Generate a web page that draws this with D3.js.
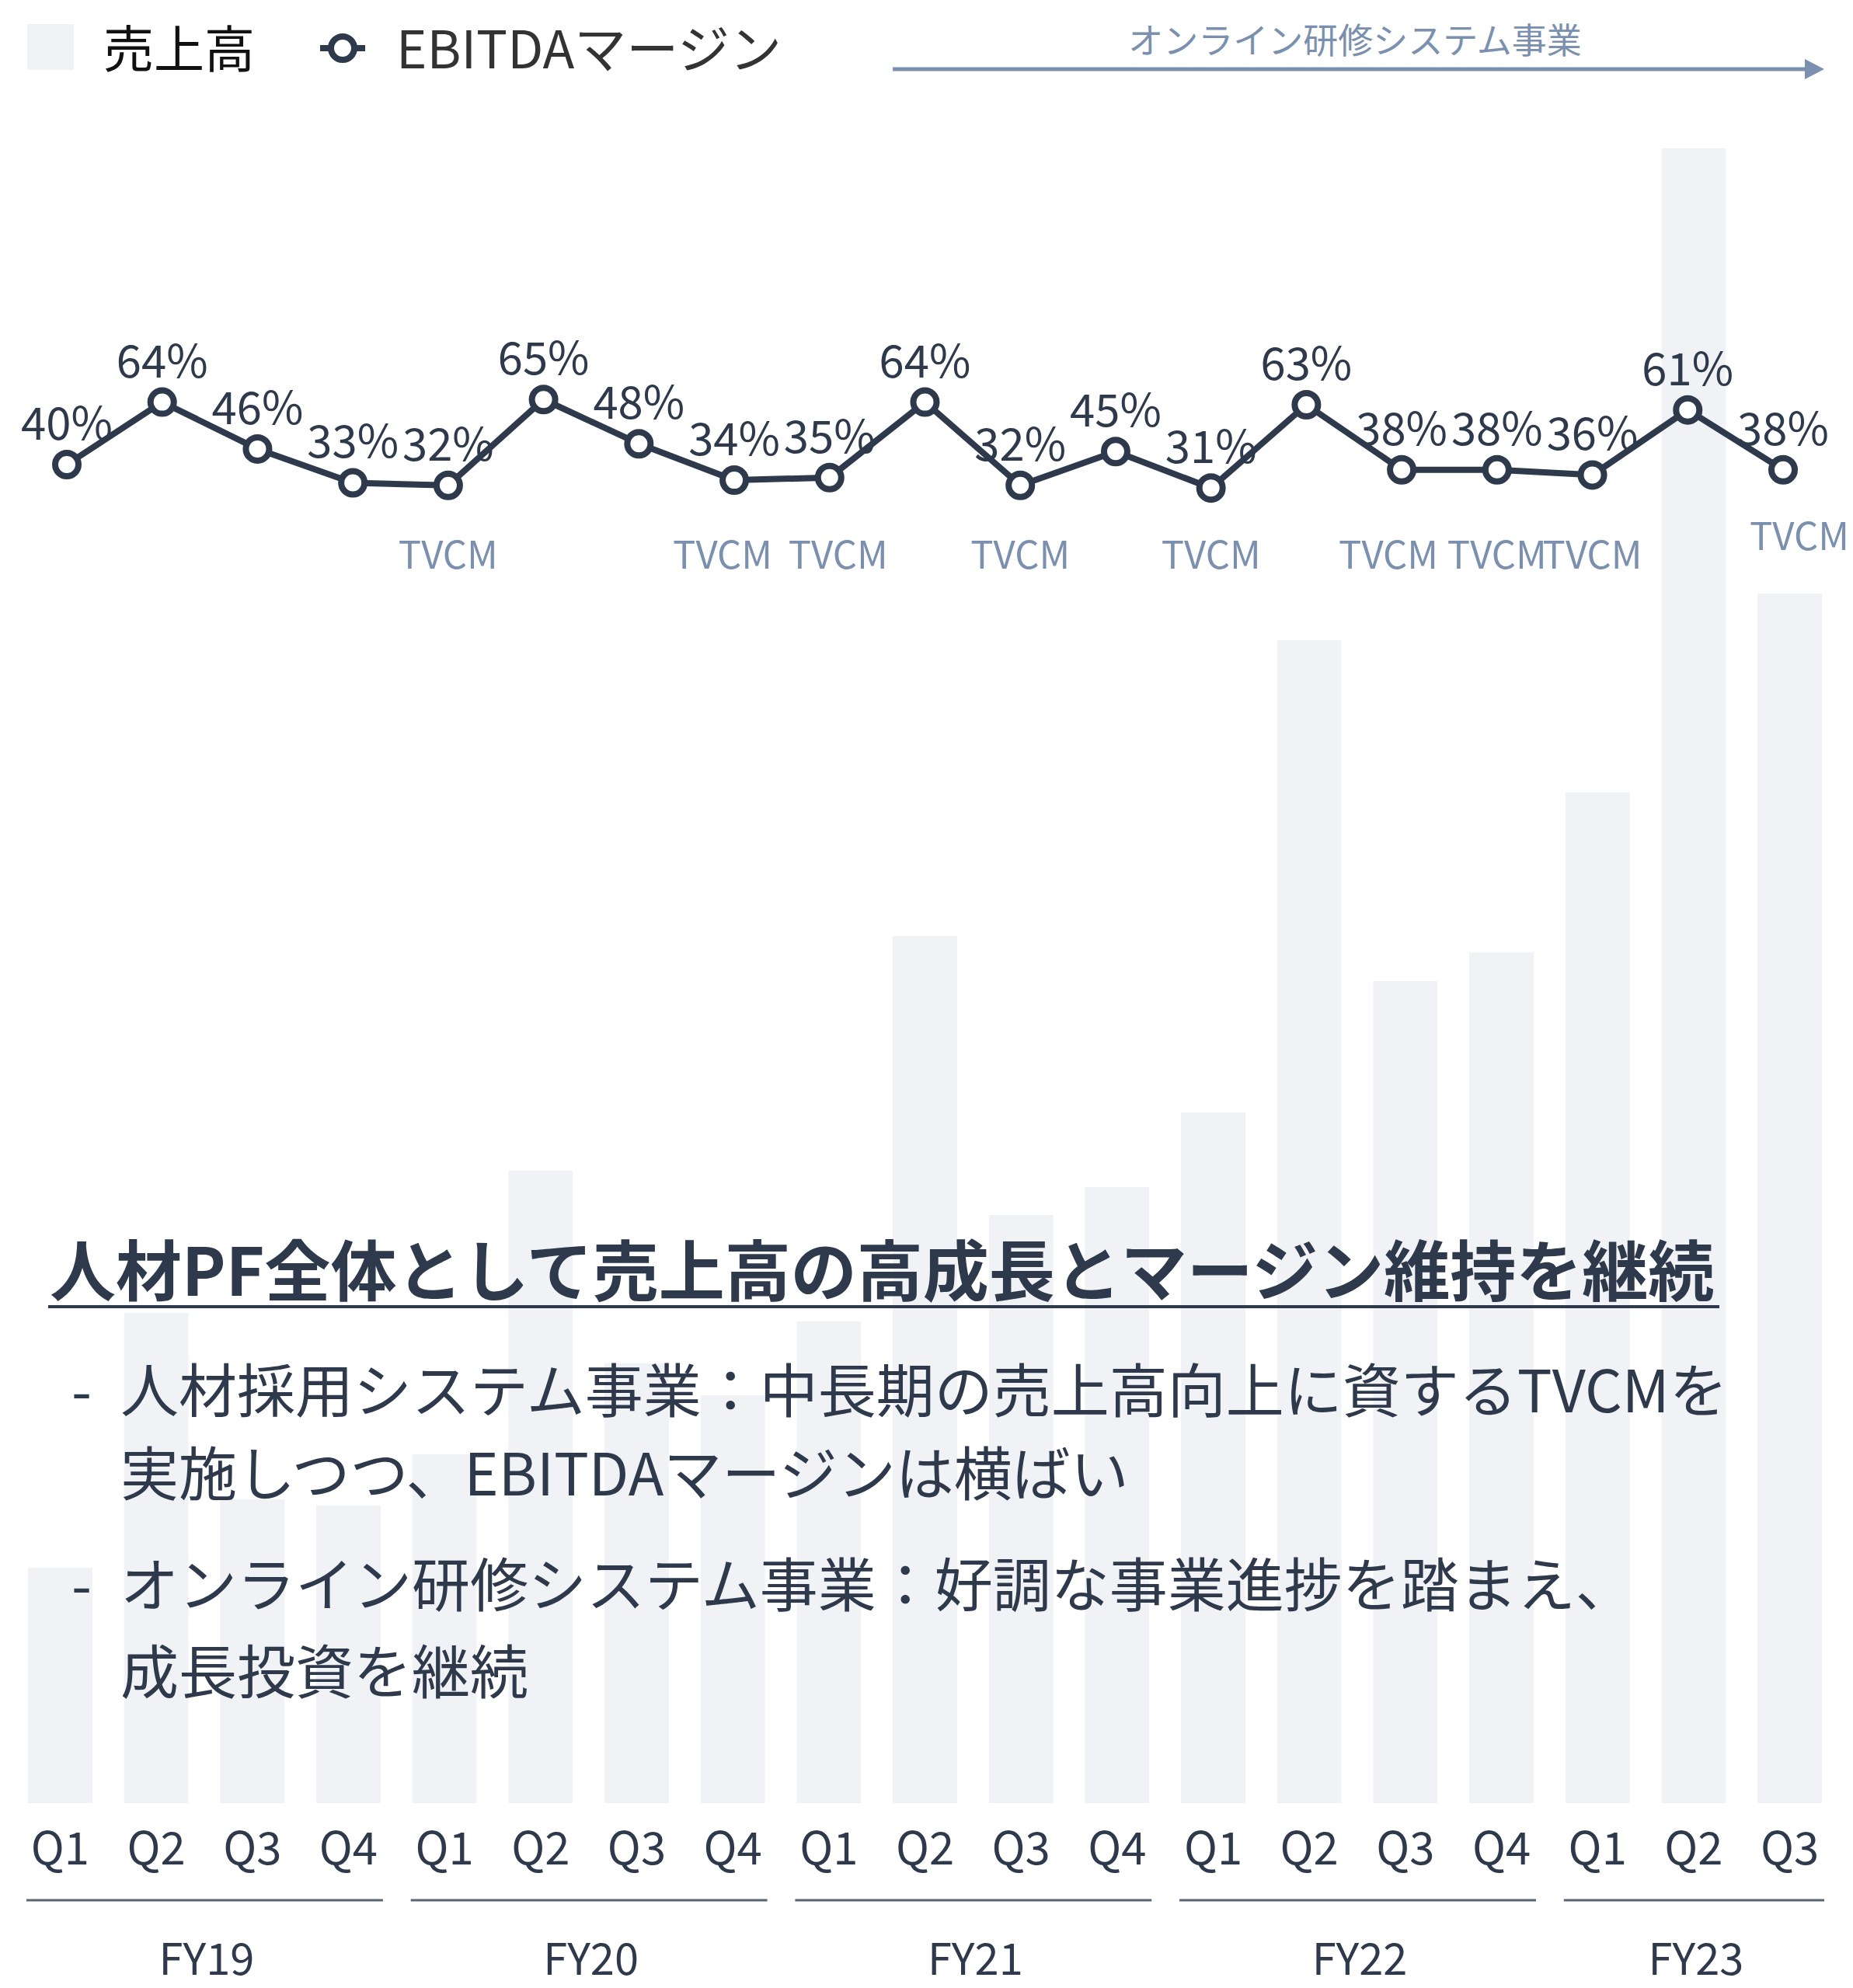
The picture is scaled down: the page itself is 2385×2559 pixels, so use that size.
<!DOCTYPE html>
<html>
<head>
<meta charset="utf-8">
<script src="https://cdn.jsdelivr.net/npm/d3@7"></script>
<style>
  body { margin: 0; background: #fff; }
  svg { display: block; font-family: "Noto Sans CJK JP", "Noto Sans", sans-serif; }
</style>
</head>
<body>
<div id="chart"></div>
<script>
// quarters shown on the x axis
const periods = [
  "FY19-Q1", "FY19-Q2", "FY19-Q3", "FY19-Q4",
  "FY20-Q1", "FY20-Q2", "FY20-Q3", "FY20-Q4",
  "FY21-Q1", "FY21-Q2", "FY21-Q3", "FY21-Q4",
  "FY22-Q1", "FY22-Q2", "FY22-Q3", "FY22-Q4",
  "FY23-Q1", "FY23-Q2", "FY23-Q3"
];
const fiscalYears = ["FY19", "FY20", "FY21", "FY22", "FY23"];

// 売上高 (relative)
const sales = [303, 631, 391, 383, 449, 814, 566, 525, 620, 1116, 757, 793, 889, 1497, 1058, 1095, 1301, 2130, 1557];
// EBITDAマージン (%)
const margin = [40, 64, 46, 33, 32, 65, 48, 34, 35, 64, 32, 45, 31, 63, 38, 38, 36, 61, 38];
// quarters with a TVCM note
const tvcm = ["FY20-Q1", "FY20-Q4", "FY21-Q1", "FY21-Q3", "FY22-Q1", "FY22-Q3", "FY22-Q4", "FY23-Q1", "FY23-Q3"];

const legendLabels = ["売上高", "EBITDAマージン"];
const segmentLabel = "オンライン研修システム事業";
const segmentStart = "FY21-Q2";
const headline = "人材PF全体として売上高の高成長とマージン維持を継続";
const bullets = [
  ["人材採用システム事業：中長期の売上高向上に資するTVCMを", "実施しつつ、EBITDAマージンは横ばい"],
  ["オンライン研修システム事業：好調な事業進捗を踏まえ、", "成長投資を継続"]
];

const W = 2385, H = 2559;
const navy = "#2e3a4b", slate = "#7a90ae", barFill = "#f1f2f6";

const svg = d3.select("#chart").append("svg")
  .attr("width", W)
  .attr("height", H);

const x = d3.scaleBand()
  .domain(periods)
  .range([36, 2345])
  .paddingInner(0.33)
  .paddingOuter(0);

const xp = d3.scalePoint()
  .domain(periods)
  .range([86, 2295]);

const y = d3.scaleLinear()
  .domain([0, d3.max(sales)])
  .range([2321, 191]);

const yM = d3.scaleLinear()
  .domain([0, 100])
  .range([732, 397]);

// bars
svg.append("g")
  .selectAll("rect")
  .data(periods)
  .enter()
  .append("rect")
  .attr("x", d => x(d))
  .attr("y", (d, i) => y(sales[i]))
  .attr("width", x.bandwidth())
  .attr("height", (d, i) => y(0) - y(sales[i]))
  .attr("fill", barFill);

// legend
const lg = svg.append("g");
lg.append("rect").attr("x", 35).attr("y", 31).attr("width", 60).attr("height", 59).attr("fill", barFill);
lg.append("text").attr("x", 133).attr("y", 87).attr("font-size", 65).attr("fill", "#111").text(legendLabels[0]);
lg.append("line").attr("x1", 412).attr("x2", 470).attr("y1", 62).attr("y2", 62)
  .attr("stroke", navy).attr("stroke-width", 8);
lg.append("circle").attr("cx", 441).attr("cy", 62).attr("r", 15)
  .attr("fill", "#fff").attr("stroke", navy).attr("stroke-width", 8);
lg.append("text").attr("x", 510).attr("y", 88).attr("font-size", 67).attr("fill", "#333").text(legendLabels[1]);

// segment arrow
const arrowX0 = x(segmentStart);
const arrowX1 = x(periods[periods.length - 1]) + x.bandwidth() + 3;
svg.append("line")
  .attr("x1", arrowX0).attr("x2", arrowX1 - 24)
  .attr("y1", 89).attr("y2", 89)
  .attr("stroke", slate).attr("stroke-width", 5);
svg.append("path")
  .attr("d", `M${arrowX1 - 25},76 L${arrowX1},89 L${arrowX1 - 25},102 Z`)
  .attr("fill", slate);
svg.append("text")
  .attr("x", 1744).attr("y", 69)
  .attr("text-anchor", "middle")
  .attr("font-size", 45)
  .attr("fill", slate)
  .text(segmentLabel);

// percentage labels (under the line)
svg.append("g")
  .selectAll("text")
  .data(periods)
  .enter()
  .append("text")
  .attr("x", d => xp(d))
  .attr("y", (d, i) => yM(margin[i]) - 32)
  .attr("text-anchor", "middle")
  .attr("font-size", 58)
  .attr("fill", navy)
  .text((d, i) => margin[i] + "%");

// TVCM notes, nudged apart where they crowd
const tvcmNudge = { "FY20-Q4": [-15, 0], "FY21-Q1": [11, 0], "FY22-Q3": [-17, 0], "FY23-Q3": [21, -24] };
svg.append("g")
  .selectAll("text")
  .data(tvcm)
  .enter()
  .append("text")
  .attr("x", d => xp(d) + (tvcmNudge[d] ? tvcmNudge[d][0] : 0))
  .attr("y", d => 732 + (tvcmNudge[d] ? tvcmNudge[d][1] : 0))
  .attr("text-anchor", "middle")
  .attr("font-size", 49)
  .attr("fill", slate)
  .text("TVCM");

// margin line
const line = d3.line()
  .x(d => xp(d))
  .y((d, i) => yM(margin[i]));

svg.append("path")
  .datum(periods)
  .attr("d", line)
  .attr("fill", "none")
  .attr("stroke", navy)
  .attr("stroke-width", 8)
  .attr("stroke-linejoin", "round");

svg.append("g")
  .selectAll("circle")
  .data(periods)
  .enter()
  .append("circle")
  .attr("cx", d => xp(d))
  .attr("cy", (d, i) => yM(margin[i]))
  .attr("r", 15)
  .attr("fill", "#fff")
  .attr("stroke", navy)
  .attr("stroke-width", 8);

// x axis: quarters, year brackets, years
svg.append("g")
  .selectAll("text")
  .data(periods)
  .enter()
  .append("text")
  .attr("x", d => x(d) + x.bandwidth() / 2)
  .attr("y", 2400)
  .attr("text-anchor", "middle")
  .attr("font-size", 58)
  .attr("fill", navy)
  .text(d => d.split("-")[1]);

const yearGroups = fiscalYears.map(fy => {
  const qs = periods.filter(p => p.startsWith(fy));
  return { fy, x0: x(qs[0]), x1: x(qs[qs.length - 1]) + x.bandwidth() };
});

const yg = svg.append("g");
yg.selectAll("line")
  .data(yearGroups)
  .enter()
  .append("line")
  .attr("x1", d => d.x0 - 2)
  .attr("x2", d => d.x1 + 3)
  .attr("y1", 2446).attr("y2", 2446)
  .attr("stroke", "#5b6572")
  .attr("stroke-width", 3);
yg.selectAll("text")
  .data(yearGroups)
  .enter()
  .append("text")
  .attr("x", d => (d.x0 + d.x1) / 2 + 3)
  .attr("y", 2542)
  .attr("text-anchor", "middle")
  .attr("font-size", 56)
  .attr("fill", navy)
  .text(d => d.fy);

// commentary block
const note = svg.append("g").attr("fill", navy);
note.append("text")
  .attr("x", 64).attr("y", 1668)
  .attr("font-size", 85)
  .attr("font-weight", "bold")
  .text(headline);
note.append("rect")
  .attr("x", 62).attr("y", 1680).attr("width", 2151).attr("height", 4);

const lineYs = [[1818, 1925], [2068, 2180]];
bullets.forEach((b, i) => {
  note.append("text").attr("x", 92).attr("y", lineYs[i][0]).attr("font-size", 75).text("-");
  b.forEach((t, j) => {
    note.append("text").attr("x", 155).attr("y", lineYs[i][j]).attr("font-size", 75).text(t);
  });
});
</script>
</body>
</html>
